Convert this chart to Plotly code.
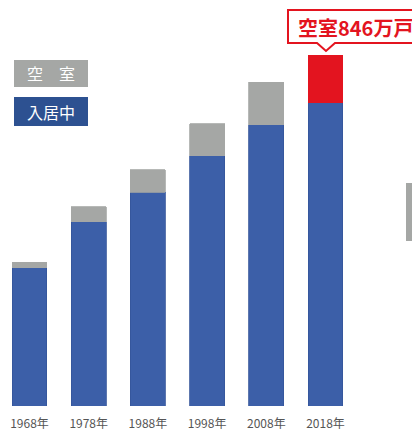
import plotly.graph_objects as go

years = ["1968年", "1978年", "1988年", "1998年", "2008年", "2018年"]
total = [2559, 3545, 4201, 5025, 5759, 6241]       # 万戸
vacant = [103, 268, 394, 576, 757, 846]            # 万戸
occupied = [t - v for t, v in zip(total, vacant)]
callout = "空室846万戸"
legend_labels = ["空　室", "入居中"]

BLUE = "#3c5fa8"
BLUE_DARK = "#2d5191"
GREY = "#a5a7a5"
RED = "#e3141f"

OFF = 8               # page body margin offset
W, H = 420 - OFF, 430 - OFF
PB = 406 - OFF        # pixel y of axis baseline


def px(x):
    return (x - OFF) / W


def py(y):
    return (PB - (y - OFF)) / PB


xs = list(range(len(years)))
vac_colors = [GREY] * (len(years) - 1) + [RED]

fig = go.Figure()
fig.add_trace(go.Bar(x=xs, y=occupied, marker=dict(color=BLUE, line=dict(color="#34559a", width=0.8)),
                     width=0.59, hoverinfo="skip"))
fig.add_trace(go.Bar(x=xs, y=vacant, marker=dict(color=vac_colors, line=dict(color=vac_colors, width=0.8)),
                     width=0.59, hoverinfo="skip"))

shapes = []
annotations = []

# legend boxes
shapes.append(dict(type="rect", xref="paper", yref="paper", x0=px(14), x1=px(88), y0=py(87), y1=py(60),
                   fillcolor=GREY, line=dict(width=0), layer="above"))
shapes.append(dict(type="rect", xref="paper", yref="paper", x0=px(14), x1=px(88), y0=py(126), y1=py(97),
                   fillcolor=BLUE_DARK, line=dict(width=0), layer="above"))
annotations.append(dict(xref="paper", yref="paper", x=px(51), y=py(73.5), text=legend_labels[0], showarrow=False,
                        font=dict(size=16, color="white", family="Noto Sans CJK JP"), xanchor="center", yanchor="middle"))
annotations.append(dict(xref="paper", yref="paper", x=px(51), y=py(111.5), text=legend_labels[1], showarrow=False,
                        font=dict(size=16, color="white", family="Noto Sans CJK JP"), xanchor="center", yanchor="middle"))

# callout box with notch
pts = [(288, 10), (418, 10), (418, 43), (335, 43), (326, 51), (317, 43), (288, 43)]
path = "M " + " L ".join(f"{px(a):.5f},{py(b):.5f}" for a, b in pts) + " Z"
shapes.append(dict(type="path", xref="paper", yref="paper", path=path, fillcolor="white",
                   line=dict(color=RED, width=2), layer="above"))
annotations.append(dict(xref="paper", yref="paper", x=px(355.5), y=py(27), text=f"<b>{callout}</b>", showarrow=False,
                        font=dict(size=20, color=RED, family="Noto Sans CJK JP"), xanchor="center", yanchor="middle"))

# partial elements cropped at right edge
shapes.append(dict(type="rect", xref="paper", yref="paper", x0=px(406), x1=px(425), y0=py(241), y1=py(183),
                   fillcolor=GREY, line=dict(width=0), layer="above"))
annotations.append(dict(xref="paper", yref="paper", x=px(412), y=py(424), text="引", showarrow=False,
                        font=dict(size=12, color="#555555", family="Noto Sans CJK JP"), xanchor="left", yanchor="middle"))

fig.update_layout(
    width=W, height=H,
    margin=dict(l=0, r=0, t=0, b=H - PB),
    barmode="stack",
    showlegend=False,
    plot_bgcolor="white", paper_bgcolor="white",
    shapes=shapes, annotations=annotations,
    xaxis=dict(range=[-(29.5 - OFF) / 59.2, (W - (29.5 - OFF)) / 59.2], tickvals=xs, ticktext=years,
               showgrid=False, zeroline=False, showline=False, ticks="", ticklabelstandoff=9,
               automargin=False,
               tickfont=dict(size=12, color="#555555", family="Noto Sans CJK JP")),
    yaxis=dict(range=[0, PB / 0.0562], visible=False, showgrid=False, zeroline=False, automargin=False),
)

fig.write_html("out.html")
